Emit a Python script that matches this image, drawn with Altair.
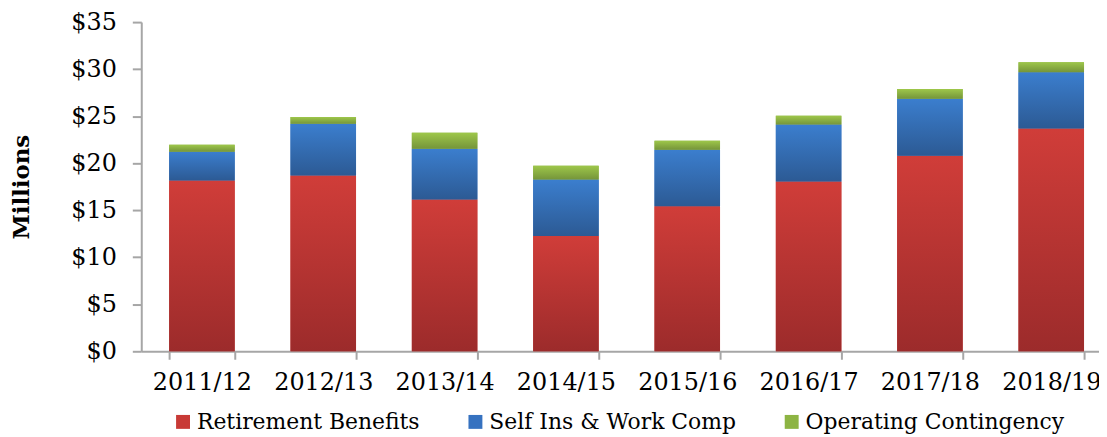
import altair as alt
import pandas as pd

years = ["2011/12", "2012/13", "2013/14", "2014/15", "2015/16", "2016/17", "2017/18", "2018/19"]
series = ["Retirement Benefits", "Self Ins & Work Comp", "Operating Contingency"]
retirement = [18.16, 18.68, 16.15, 12.27, 15.41, 18.05, 20.80, 23.69]
self_ins = [3.06, 5.50, 5.39, 5.99, 6.03, 6.06, 6.06, 5.99]
operating = [0.74, 0.74, 1.69, 1.48, 0.95, 0.93, 1.02, 1.06]
y_ticks = [0, 5, 10, 15, 20, 25, 30, 35]

solid = ["#C83A36", "#3672C0", "#8DB443"]
grad_stops = [
    ("#D03D39", "#9C2B2B"),
    ("#3B7ECE", "#2C5A94"),
    ("#9EC74A", "#75953A"),
]

rows = []
for i, yr in enumerate(years):
    for k, vals in enumerate([retirement, self_ins, operating]):
        rows.append({"year": yr, "series": series[k], "value": vals[i], "order": k})
df = pd.DataFrame(rows)

font = "DejaVu Serif"
axis_gray = "#A6A6A6"

x_enc = alt.X(
    "year:N",
    sort=years,
    title=None,
    scale=alt.Scale(paddingInner=0.46, paddingOuter=0.23, range=[0, 976]),
    axis=alt.Axis(
        labelAngle=0,
        tickBand="extent",
        labelFont=font,
        labelFontSize=24,
        labelColor="#000000",
        labelPadding=11,
        labelLimit=0,
        tickSize=8,
        tickColor=axis_gray,
        tickWidth=2,
        domainColor=axis_gray,
        domainWidth=2,
        grid=False,
    ),
)

y_enc = alt.Y(
    "y0:Q",
    scale=alt.Scale(domain=[0, 35], nice=False),
    axis=alt.Axis(
        values=y_ticks,
        labelExpr="'$' + datum.value",
        title="Millions",
        titleFont=font,
        titleFontSize=23,
        titleFontWeight="bold",
        titleColor="#000000",
        titleAngle=270,
        titleX=-120,
        titleY=165.5,
        titleBaseline="middle",
        titleAlign="center",
        labelFont=font,
        labelFontSize=24,
        labelColor="#000000",
        labelPadding=16,
        tickSize=9,
        tickColor=axis_gray,
        tickWidth=2,
        domainColor=axis_gray,
        domainWidth=2,
        grid=False,
    ),
)

base = alt.Chart(df).transform_stack(
    stack="value",
    as_=["y0", "y1"],
    groupby=["year"],
    sort=[alt.SortField("order", order="ascending")],
)

legend_layer = base.mark_bar().encode(
    x=x_enc,
    y=y_enc,
    y2="y1:Q",
    color=alt.Color(
        "series:N",
        scale=alt.Scale(domain=series, range=solid),
        legend=alt.Legend(
            title=None,
            orient="none",
            direction="horizontal",
            legendX=31,
            legendY=391,
            symbolType="square",
            symbolSize=196,
            symbolStrokeWidth=0,
            labelFont=font,
            labelFontSize=22,
            labelColor="#000000",
            labelOffset=3,
            labelLimit=0,
            columnPadding=44,
        ),
    ),
)

layers = [legend_layer]
for s, (c_top, c_bot) in zip(series, grad_stops):
    grad = alt.LinearGradient(
        gradient="linear",
        stops=[alt.GradientStop(color=c_top, offset=0), alt.GradientStop(color=c_bot, offset=1)],
        x1=0, x2=0, y1=0, y2=1,
    )
    layers.append(
        base.transform_filter(alt.datum.series == s)
        .mark_bar(color=grad)
        .encode(x=x_enc, y=y_enc, y2="y1:Q")
    )

chart = (
    alt.layer(*layers)
    .properties(
        width=963,
        height=331,
        autosize=alt.AutoSizeParams(type="none"),
        padding={"left": 134, "top": 13, "right": 0, "bottom": 85},
    )
    .configure_view(stroke=None)
)

chart.save("out.html", embed_options={"renderer": "svg", "actions": False})
